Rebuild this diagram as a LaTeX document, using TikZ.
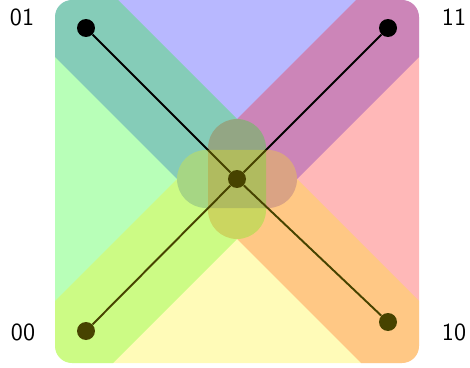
\documentclass[tikz,border=0pt]{standalone}
\usepackage{tikz}

\begin{document}
\begin{tikzpicture}[x=0.02cm, y=-0.02cm,
  face/.style={fill=#1},
  dot/.style={circle, fill=black, inner sep=0pt, minimum size=0.36cm},
  lbl/.style={font=\fontsize{14}{16}\selectfont\sffamily, inner sep=0pt}
]
\useasboundingbox (0,0) rectangle (470,368);
\coordinate (c) at (237,179);
\begin{scope}
\clip[rounded corners=0.34cm] (55,0) rectangle (419,363);
% faces, drawn round the centre (y up)
\begin{scope}[shift={(c)}, x=0.02cm, y=0.02cm, opacity=0.28]
  \fill[face=blue] (-60,0) -- (-300,240) -- (300,240) -- (60,0)
    arc[start angle=0, end angle=-90, radius=29] -- (-31,-29)
    arc[start angle=-90, end angle=-180, radius=29] -- cycle;
  \fill[face=red] (0,60) -- (240,300) -- (240,-300) -- (0,-60)
    arc[start angle=-90, end angle=-180, radius=29] -- (-29,31)
    arc[start angle=180, end angle=90, radius=29] -- cycle;
  \fill[face=green] (0,60) -- (-240,300) -- (-240,-300) -- (0,-60)
    arc[start angle=-90, end angle=0, radius=29] -- (29,31)
    arc[start angle=0, end angle=90, radius=29] -- cycle;
\end{scope}
% edges and vertices
\node[dot] (d01) at (86,28) {};
\node[dot] (d11) at (388,28) {};
\node[dot] (d00) at (86,331) {};
\node[dot] (d10) at (388,322) {};
\node[dot] (dc) at (c) {};
\draw[line width=1.1pt] (d01) -- (dc) -- (d10);
\draw[line width=1.1pt] (d00) -- (dc) -- (d11);
\begin{scope}[shift={(c)}, x=0.02cm, y=0.02cm, opacity=0.28]
  \fill[face=yellow] (-60,0) -- (-300,-240) -- (300,-240) -- (60,0)
    arc[start angle=0, end angle=90, radius=29] -- (-31,29)
    arc[start angle=90, end angle=180, radius=29] -- cycle;
\end{scope}
\end{scope}
% labels
\node[lbl] (l01) at (22,17) {01};
\node[lbl] (l11) at (454,17) {11};
\node[lbl] (l00) at (23,332) {00};
\node[lbl] (l10) at (454,332) {10};
\end{tikzpicture}
\end{document}
